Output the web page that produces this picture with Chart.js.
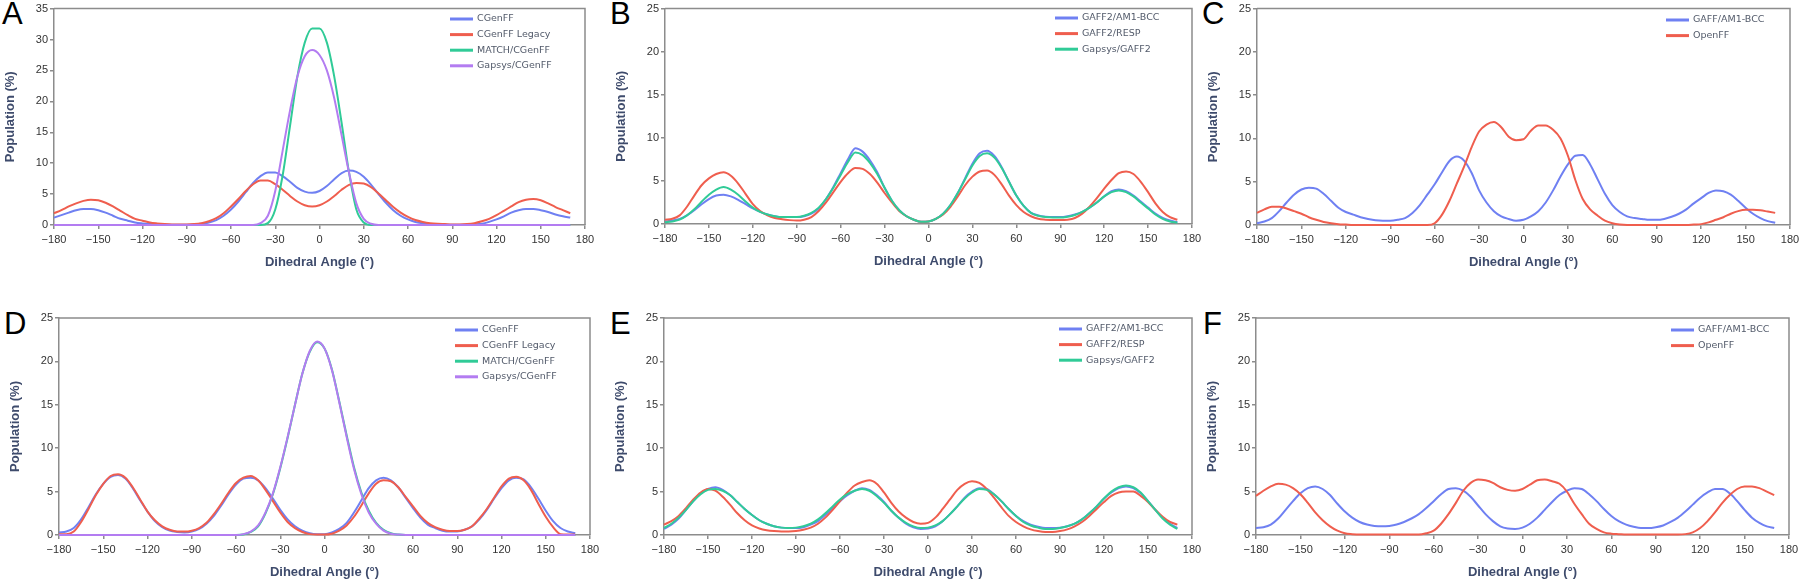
<!DOCTYPE html>
<html>
<head>
<meta charset="utf-8">
<script src="https://cdn.jsdelivr.net/npm/chart.js@4.4.1/dist/chart.umd.min.js"></script>
<style>
  body { margin: 0; width: 1800px; height: 581px; background: #fff; overflow: hidden; position: relative; }
  canvas { position: absolute; }
  .tag { position: absolute; font: 31px/1 "Liberation Sans", Arial, sans-serif; color: #000; }
</style>
</head>
<body>
<div class="tag" style="left:2px;top:-2px">A</div>
<div class="tag" style="left:610px;top:-2px">B</div>
<div class="tag" style="left:1202px;top:-2px">C</div>
<div class="tag" style="left:4px;top:308px">D</div>
<div class="tag" style="left:610px;top:308px">E</div>
<div class="tag" style="left:1203px;top:308px">F</div>
<canvas id="cA"></canvas>
<canvas id="cB"></canvas>
<canvas id="cC"></canvas>
<canvas id="cD"></canvas>
<canvas id="cE"></canvas>
<canvas id="cF"></canvas>
<script>
// dihedral angle bins (deg)
const angles = [-180,-175,-170,-165,-160,-155,-150,-145,-140,-135,
  -130,-125,-120,-115,-110,-105,-100,-95,-90,-85,
  -80,-75,-70,-65,-60,-55,-50,-45,-40,-35,
  -30,-25,-20,-15,-10,-5,0,5,10,15,
  20,25,30,35,40,45,50,55,60,65,
  70,75,80,85,90,95,100,105,110,115,
  120,125,130,135,140,145,150,155,160,165,
  170];
const xTicks = [-180,-150,-120,-90,-60,-30,0,30,60,90,120,150,180];

const cgenffNames = ['CGenFF', 'CGenFF Legacy', 'MATCH/CGenFF', 'Gapsys/CGenFF'];
const gaff2Names = ['GAFF2/AM1-BCC', 'GAFF2/RESP', 'Gapsys/GAFF2'];
const gaffNames = ['GAFF/AM1-BCC', 'OpenFF'];

// panel A
const aCgenff = [1.2,1.6,2.0,2.4,2.6,2.6,2.4,2.0,1.5,1.0,
  0.7,0.4,0.25,0.15,0.1,0.05,0.05,0.05,0.05,0.1,
  0.2,0.4,0.8,1.5,2.5,3.8,5.3,6.8,7.9,8.5,
  8.5,7.9,7.0,6.0,5.4,5.2,5.5,6.3,7.4,8.4,
  8.8,8.6,7.8,6.5,5.0,3.6,2.4,1.5,0.9,0.5,
  0.3,0.15,0.1,0.05,0.05,0.05,0.05,0.1,0.2,0.5,
  0.9,1.4,2.0,2.4,2.6,2.6,2.4,2.1,1.7,1.4,
  1.2];
const aLegacy = [1.9,2.4,3.0,3.5,3.9,4.1,4.0,3.6,3.0,2.3,
  1.6,1.0,0.7,0.4,0.25,0.15,0.1,0.1,0.1,0.15,
  0.3,0.6,1.1,1.9,3.0,4.2,5.5,6.6,7.2,7.2,
  6.6,5.7,4.7,3.8,3.2,3.0,3.2,3.8,4.7,5.7,
  6.5,6.8,6.7,6.1,5.1,4.0,2.9,2.0,1.3,0.8,
  0.5,0.3,0.2,0.15,0.1,0.1,0.15,0.3,0.6,1.0,
  1.6,2.3,3.0,3.7,4.1,4.2,4.0,3.5,2.9,2.4,
  1.9];
const aMatch = [0,0,0,0,0,0,0,0,0,0,
  0,0,0,0,0,0,0,0,0,0,
  0,0,0,0,0,0,0,0,0,0.3,
  2.5,8,16,24,29.5,31.8,31.8,29.5,24,16.5,
  8.5,2.5,0.4,0,0,0,0,0,0,0,
  0,0,0,0,0,0,0,0,0,0,
  0,0,0,0,0,0,0,0,0,0,
  0];
const aGapsys = [0,0,0,0,0,0,0,0,0,0,
  0,0,0,0,0,0,0,0,0,0,
  0,0,0,0,0,0,0,0,0.3,1.5,
  5.5,12,18.5,24,27.3,28.3,27.5,25,20.5,14.5,
  8.5,3.5,1.0,0.2,0,0,0,0,0,0,
  0,0,0,0,0,0,0,0,0,0,
  0,0,0,0,0,0,0,0,0,0,
  0];

// panel B
const bBcc = [0.3,0.4,0.6,1.0,1.6,2.3,2.9,3.3,3.4,3.2,
  2.8,2.3,1.8,1.4,1.1,0.9,0.8,0.8,0.8,0.9,
  1.2,1.8,2.9,4.3,5.9,7.5,8.8,8.4,7.4,6.0,
  4.2,2.7,1.6,0.9,0.5,0.25,0.3,0.6,1.2,2.2,
  3.6,5.3,7.0,8.2,8.5,7.9,6.6,4.9,3.3,2.1,
  1.3,1.0,0.85,0.8,0.8,0.9,1.1,1.4,1.9,2.5,
  3.2,3.8,4.0,3.8,3.3,2.6,1.9,1.2,0.7,0.4,
  0.2];
const bResp = [0.5,0.6,1.0,2.0,3.3,4.5,5.3,5.8,6.0,5.6,
  4.7,3.5,2.3,1.5,1.0,0.7,0.55,0.45,0.4,0.5,
  0.8,1.5,2.5,3.7,4.9,5.9,6.5,6.4,5.8,4.8,
  3.6,2.5,1.5,0.9,0.5,0.25,0.3,0.6,1.1,2.0,
  3.2,4.5,5.5,6.1,6.2,5.7,4.6,3.3,2.2,1.4,
  0.9,0.6,0.5,0.45,0.45,0.5,0.7,1.2,2.0,3.0,
  4.1,5.1,5.9,6.1,5.8,4.9,3.7,2.4,1.4,0.8,
  0.5];
const bGapsys = [0.2,0.3,0.5,1.0,1.7,2.6,3.4,4.0,4.3,4.0,
  3.4,2.6,1.9,1.4,1.1,0.9,0.8,0.8,0.8,0.95,
  1.3,1.9,2.9,4.2,5.7,7.2,8.3,8.0,7.1,5.8,
  4.2,2.7,1.6,0.9,0.5,0.25,0.3,0.6,1.2,2.2,
  3.6,5.2,6.8,7.9,8.2,7.7,6.5,4.9,3.3,2.1,
  1.3,0.95,0.8,0.75,0.75,0.85,1.05,1.4,1.9,2.5,
  3.2,3.7,3.9,3.7,3.2,2.5,1.8,1.1,0.6,0.3,
  0.15];

// panel C
const cBcc = [0.2,0.4,0.8,1.6,2.6,3.5,4.1,4.3,4.2,3.6,
  2.8,2.0,1.5,1.2,0.9,0.7,0.55,0.5,0.5,0.6,
  0.8,1.4,2.3,3.5,4.7,6.1,7.4,7.9,7.4,6.0,
  4.0,2.6,1.6,1.0,0.7,0.5,0.6,1.0,1.6,2.6,
  4.0,5.6,7.0,8.0,8.1,7.0,5.3,3.6,2.3,1.5,
  1.0,0.8,0.7,0.6,0.6,0.7,0.95,1.3,1.8,2.5,
  3.1,3.7,4.0,3.9,3.5,2.8,2.0,1.3,0.8,0.45,
  0.25];
const cOpenff = [1.4,1.8,2.1,2.1,1.9,1.6,1.3,0.9,0.6,0.35,
  0.2,0.1,0.05,0,0,0,0,0,0,0,
  0,0,0,0,0.2,1.2,2.8,4.8,6.8,9.0,
  10.8,11.6,11.9,11.3,10.2,9.8,9.9,10.9,11.5,11.5,
  11.0,10.0,8.0,5.2,3.0,1.8,1.1,0.5,0.2,0.05,
  0,0,0,0,0,0,0,0,0,0.05,
  0.1,0.3,0.6,0.9,1.3,1.6,1.75,1.75,1.7,1.55,
  1.4];

// panel D
const dCgenff = [0.3,0.4,0.8,1.8,3.2,4.7,5.9,6.7,6.9,6.5,
  5.4,4.0,2.7,1.6,0.9,0.5,0.35,0.3,0.4,0.7,
  1.3,2.2,3.4,4.7,5.8,6.5,6.6,6.3,5.4,4.2,
  2.9,1.8,1.0,0.5,0.2,0.1,0.1,0.3,0.7,1.4,
  2.6,4.0,5.4,6.3,6.6,6.3,5.5,4.3,3.1,2.0,
  1.2,0.8,0.5,0.4,0.4,0.6,1.0,1.8,2.9,4.2,
  5.4,6.3,6.6,6.4,5.5,4.2,2.8,1.6,0.8,0.4,
  0.2];
const dLegacy = [0.1,0.1,0.4,1.5,3.0,4.6,5.9,6.8,7.0,6.6,
  5.5,4.1,2.7,1.7,1.0,0.6,0.4,0.4,0.5,0.8,
  1.4,2.4,3.6,4.9,6.0,6.6,6.8,6.3,5.2,3.9,
  2.6,1.5,0.8,0.35,0.1,0.05,0.05,0.15,0.5,1.1,
  2.1,3.4,4.8,5.9,6.3,6.2,5.5,4.4,3.3,2.2,
  1.4,0.9,0.6,0.45,0.45,0.6,1.0,1.9,3.0,4.3,
  5.6,6.5,6.7,6.3,5.2,3.6,2.1,0.9,0.1,0.05,
  0.05];
const dMatch = [0,0,0,0,0,0,0,0,0,0,
  0,0,0,0,0,0,0,0,0,0,
  0,0,0,0,0,0.05,0.35,1.0,2.5,4.7,
  7.7,11.2,15.0,18.6,21.1,22.2,21.5,19.1,15.4,11.5,
  7.8,4.9,2.8,1.4,0.6,0.2,0.05,0,0,0,
  0,0,0,0,0,0,0,0,0,0,
  0,0,0,0,0,0,0,0,0,0,
  0];
const dGapsys = [0,0,0,0,0,0,0,0,0,0,
  0,0,0,0,0,0,0,0,0,0,
  0,0,0,0,0,0.1,0.4,1.1,2.6,4.8,
  7.8,11.3,15.0,18.6,21.2,22.3,21.5,19.0,15.3,11.3,
  7.6,4.7,2.6,1.3,0.5,0.15,0.05,0,0,0,
  0,0,0,0,0,0,0,0,0,0,
  0,0,0,0,0,0,0,0,0,0,
  0];

// panel E
const eBcc = [0.7,1.2,1.9,2.9,3.9,4.8,5.3,5.5,5.2,4.6,
  3.8,3.0,2.3,1.7,1.3,1.0,0.85,0.8,0.8,0.9,
  1.2,1.6,2.3,3.1,3.9,4.6,5.1,5.4,5.2,4.6,
  3.8,2.8,2.0,1.3,0.9,0.7,0.75,1.0,1.6,2.4,
  3.3,4.3,5.0,5.4,5.3,4.7,3.9,3.0,2.2,1.6,
  1.2,0.95,0.8,0.8,0.85,1.0,1.3,1.8,2.5,3.3,
  4.2,4.9,5.4,5.6,5.4,4.8,3.9,2.9,2.0,1.3,
  0.8];
const eResp = [1.2,1.6,2.2,3.1,4.1,4.9,5.3,5.1,4.4,3.5,
  2.5,1.7,1.1,0.75,0.55,0.45,0.4,0.4,0.45,0.6,
  0.85,1.3,2.0,2.9,3.9,4.9,5.7,6.1,6.3,5.9,
  4.9,3.7,2.7,2.0,1.5,1.3,1.4,2.0,3.0,4.1,
  5.2,5.9,6.2,6.0,5.3,4.3,3.2,2.2,1.5,1.0,
  0.65,0.45,0.35,0.35,0.45,0.65,1.0,1.5,2.2,3.0,
  3.8,4.5,4.9,5.0,5.0,4.5,3.8,2.9,2.1,1.5,
  1.2];
const eGapsys = [0.8,1.3,2.0,2.9,3.9,4.7,5.2,5.3,5.1,4.6,
  3.8,3.0,2.3,1.7,1.3,1.0,0.85,0.8,0.85,1.0,
  1.3,1.8,2.5,3.3,4.1,4.7,5.1,5.3,5.1,4.5,
  3.7,2.8,2.0,1.4,1.0,0.8,0.85,1.1,1.6,2.4,
  3.3,4.2,4.9,5.3,5.2,4.7,3.9,3.0,2.2,1.5,
  1.1,0.85,0.7,0.7,0.8,1.0,1.3,1.8,2.5,3.3,
  4.2,5.0,5.5,5.7,5.5,4.9,3.9,2.9,1.9,1.2,
  0.7];

// panel F
const fBcc = [0.8,0.9,1.2,1.9,2.9,3.9,4.8,5.4,5.6,5.3,
  4.6,3.6,2.7,2.0,1.5,1.2,1.05,1.0,1.05,1.2,
  1.5,1.9,2.4,3.1,3.9,4.7,5.3,5.4,5.1,4.4,
  3.4,2.4,1.6,1.0,0.75,0.7,0.85,1.3,2.0,2.9,
  3.8,4.6,5.1,5.4,5.3,4.7,3.9,3.0,2.2,1.6,
  1.2,0.95,0.8,0.8,0.9,1.1,1.5,2.0,2.7,3.5,
  4.3,4.9,5.3,5.3,4.8,3.9,2.9,2.0,1.4,1.0,
  0.8];
const fOpenff = [4.5,5.1,5.6,5.9,5.8,5.4,4.7,3.7,2.6,1.7,
  1.0,0.5,0.2,0.1,0.05,0.05,0.05,0.05,0.05,0.05,
  0.05,0.05,0.05,0.2,0.5,1.3,2.4,3.7,5.1,6.0,
  6.4,6.3,6.0,5.5,5.2,5.1,5.3,5.8,6.3,6.4,
  6.2,5.9,5.0,3.6,2.4,1.3,0.7,0.3,0.15,0.1,
  0.05,0.05,0.05,0.05,0.05,0.05,0.05,0.05,0.1,0.3,
  0.8,1.6,2.6,3.7,4.6,5.3,5.6,5.6,5.4,5.0,
  4.6];

const BLUE = '#6f80f2', RED = '#ef5e4e', GREEN = '#30cb97', PURPLE = '#b37cf1';
const AXIS = '#8c8c8c', TITLE = '#3e4b6c', TICK = '#333333', LEGEND = '#525a6a';
const SANS = '"Liberation Sans", Arial, sans-serif';

// plot boxes in page pixels: left, right, top, bottom; legend = first line start x, first row y
const panels = [
  {id: 'cA', box: [54, 585, 7, 225], rowTop: 0, yMax: 35, legend: [450, 19], names: cgenffNames,
   series: [aCgenff, aLegacy, aMatch, aGapsys], colors: [BLUE, RED, GREEN, PURPLE]},
  {id: 'cB', box: [665, 1192, 7, 224], rowTop: 0, yMax: 25, legend: [1055, 18], names: gaff2Names,
   series: [bBcc, bResp, bGapsys], colors: [BLUE, RED, GREEN]},
  {id: 'cC', box: [1257, 1790, 8, 225], rowTop: 0, yMax: 25, legend: [1666, 20], names: gaffNames,
   series: [cBcc, cOpenff], colors: [BLUE, RED]},
  {id: 'cD', box: [59, 590, 318, 535], rowTop: 290, yMax: 25, legend: [455, 330], names: cgenffNames,
   series: [dCgenff, dLegacy, dMatch, dGapsys], colors: [BLUE, RED, GREEN, PURPLE]},
  {id: 'cE', box: [664, 1192, 318, 535], rowTop: 290, yMax: 25, legend: [1059, 329], names: gaff2Names,
   series: [eBcc, eResp, eGapsys], colors: [BLUE, RED, GREEN]},
  {id: 'cF', box: [1256, 1789, 318, 535], rowTop: 290, yMax: 25, legend: [1671, 330], names: gaffNames,
   series: [fBcc, fOpenff], colors: [BLUE, RED]}
];

const Y_W = 54, X_H = 46, PAD_R = 16;

// top and right sides of the box
const frame = {
  id: 'frame',
  beforeDatasetsDraw(chart) {
    const {ctx, chartArea: a} = chart;
    ctx.save();
    ctx.strokeStyle = AXIS;
    ctx.lineWidth = 1.5;
    ctx.beginPath();
    ctx.moveTo(a.left, a.top);
    ctx.lineTo(a.right, a.top);
    ctx.lineTo(a.right, a.bottom);
    ctx.stroke();
    ctx.restore();
  }
};

const lineLegend = {
  id: 'lineLegend',
  afterDraw(chart, args, opts) {
    const ctx = chart.ctx;
    ctx.save();
    ctx.font = '9.5px "DejaVu Sans", Verdana, sans-serif';
    ctx.textBaseline = 'middle';
    chart.data.datasets.forEach((ds, i) => {
      const y = opts.y + i * 15.6;
      ctx.strokeStyle = ds.borderColor;
      ctx.lineWidth = 3;
      ctx.beginPath();
      ctx.moveTo(opts.x, y);
      ctx.lineTo(opts.x + 23, y);
      ctx.stroke();
      ctx.fillStyle = LEGEND;
      ctx.fillText(ds.label, opts.x + 27, y);
    });
    ctx.restore();
  }
};

panels.forEach(p => {
  const [left, right, top, bottom] = p.box;
  const cv = document.getElementById(p.id);
  const cLeft = left - Y_W;
  cv.width = right - cLeft + PAD_R;
  cv.height = bottom + X_H - p.rowTop;
  cv.style.left = cLeft + 'px';
  cv.style.top = p.rowTop + 'px';

  const n = p.series.length;
  const datasets = p.series.map((s, i) => ({
    label: p.names[i],
    data: angles.map((a, k) => ({x: a, y: s[k]})),
    borderColor: p.colors[i],
    borderWidth: 2,
    pointRadius: 0,
    cubicInterpolationMode: 'monotone',
    clip: 4,
    order: n - i
  }));

  new Chart(cv, {
    type: 'line',
    data: {datasets},
    options: {
      responsive: false,
      animation: false,
      devicePixelRatio: 1,
      events: [],
      layout: {autoPadding: false, padding: {left: 0, top: top - p.rowTop, right: PAD_R, bottom: 0}},
      plugins: {
        legend: {display: false},
        tooltip: {enabled: false},
        lineLegend: {x: p.legend[0] - cLeft, y: p.legend[1] - p.rowTop}
      },
      scales: {
        x: {
          type: 'linear', min: -180, max: 180,
          afterFit: s => { s.height = X_H; },
          afterBuildTicks: s => { s.ticks = xTicks.map(v => ({value: v})); },
          ticks: {
            color: TICK, font: {family: SANS, size: 11}, padding: 4, maxRotation: 0, autoSkip: false,
            callback: v => String(v).replace('-', '\u2212')
          },
          grid: {drawOnChartArea: false, drawTicks: true, tickLength: 4, color: AXIS, lineWidth: 1.5},
          border: {display: true, color: AXIS, width: 1.5},
          title: {display: true, text: 'Dihedral Angle (°)', color: TITLE,
                  font: {family: SANS, size: 13, weight: 'bold'}, padding: {top: 0, bottom: 1}}
        },
        y: {
          min: 0, max: p.yMax,
          afterFit: s => { s.width = Y_W; },
          ticks: {stepSize: 5, color: TICK, font: {family: SANS, size: 11}, padding: 2},
          grid: {drawOnChartArea: false, drawTicks: true, tickLength: 4, color: AXIS, lineWidth: 1.5},
          border: {display: true, color: AXIS, width: 1.5},
          title: {display: true, text: 'Population (%)', color: TITLE,
                  font: {family: SANS, size: 13, weight: 'bold'}, padding: {top: 3, bottom: 0}}
        }
      }
    },
    plugins: [frame, lineLegend]
  });
});
</script>
</body>
</html>
